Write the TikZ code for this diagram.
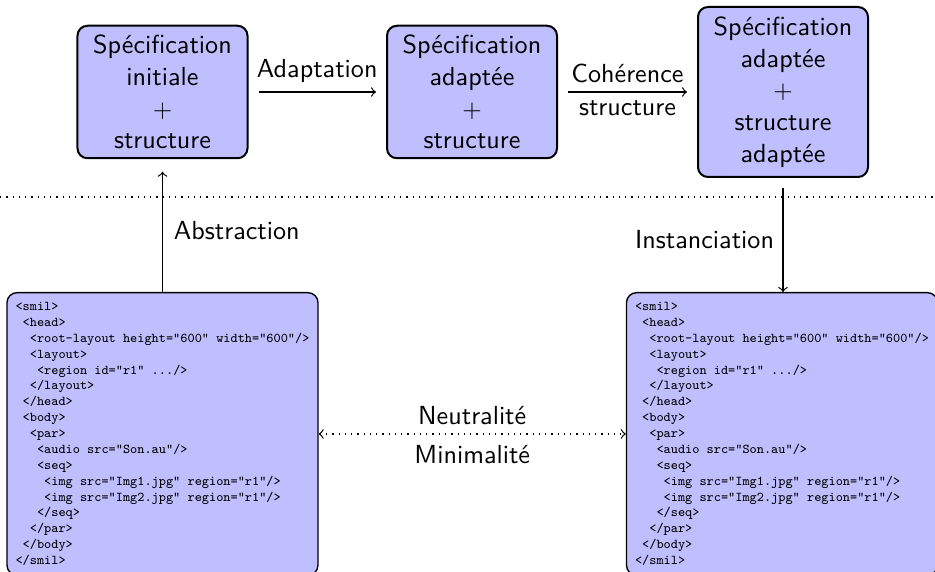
\documentclass[tikz,border=0pt]{standalone}
\usetikzlibrary{arrows}

\newcommand{\smilsource}{%
<smil>\\
~<head>\\
~~<root-layout height="600" width="600"/>\\
~~<layout>\\
~~~<region id="r1" .../>\\
~~</layout>\\
~</head>\\
~<body>\\
~~<par>\\
~~~<audio src="Son.au"/>\\
~~~<seq>\\
~~~~<img src="Img1.jpg" region="r1"/>\\
~~~~<img src="Img2.jpg" region="r1"/>\\
~~~</seq>\\
~~</par>\\
~</body>\\
</smil>}

\tikzset{
  spec/.style={draw, line width=0.8pt, rounded corners, fill=blue!25, align=center,
    minimum width=68pt, minimum height=53pt, inner sep=2pt},
  code/.style={draw, line width=0.55pt, rounded corners, fill=blue!25, align=left,
    anchor=north, minimum width=124.4pt, minimum height=113pt, inner sep=3pt,
    font=\ttfamily\fontsize{5.4}{6.35}\selectfont},
  fleche/.style={->, line width=0.5pt}
}

\begin{document}
\begin{tikzpicture}[x=0.4pt, y=-0.4pt, font=\sffamily\fontsize{10.45}{12.7}\selectfont]
\useasboundingbox (0,0) rectangle (935,572);
% haut : niveau abstrait
\node[spec] (specA) at (162.5,92) {Sp\'ecification\\initiale\\$+$\\structure};
\node[spec] (specB) at (472,92) {Sp\'ecification\\adapt\'ee\\$+$\\structure};
\node[spec, minimum height=68pt] (specC) at (783,92) {Sp\'ecification\\adapt\'ee\\$+$\\structure\\adapt\'ee};
% separation
\coordinate (sepL) at (0,197);
\coordinate (sepR) at (935,197);
\draw[dotted, line width=0.5pt] (sepL) -- (sepR);
% bas : documents SMIL
\node[code] (codeL) at (162.5,292) {\smilsource};
\node[code] (codeR) at (782,292) {\smilsource};
% fleches
\draw[fleche, shorten <=4pt, shorten >=4pt] (specA) -- node[above] {Adaptation} (specB);
\draw[fleche, shorten <=4pt, shorten >=4pt] (specB) -- node[above] {Coh\'erence} node[below] {structure} (specC);
\draw[fleche, shorten >=5pt] (codeL.north) -- node[right, xshift=1pt, yshift=-2pt] {Abstraction} (specA.south);
\draw[fleche, shorten <=4pt] (specC.south) -- node[left, yshift=-2pt] {Instanciation} (specC.south |- codeR.north);
\draw[fleche, <->, dotted] (codeL) -- node[above] {Neutralit\'e} node[below, yshift=-1pt] {Minimalit\'e} (codeR);
\end{tikzpicture}
\end{document}
